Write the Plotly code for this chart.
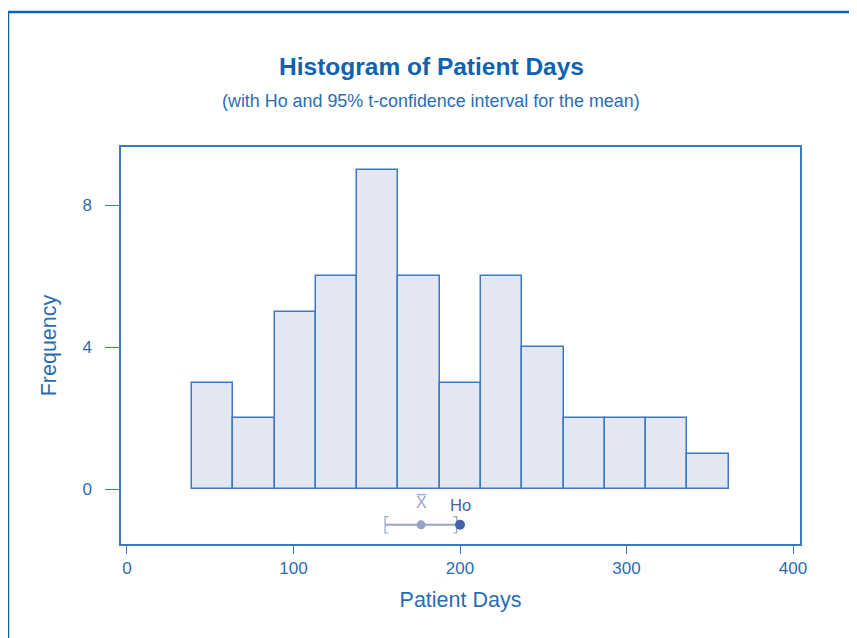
import plotly.graph_objects as go

# ---- data ----
bin_start = 39.0
bin_width = 24.8
counts = [3, 2, 5, 6, 9, 6, 3, 6, 4, 2, 2, 2, 1]
ci_lower = 155.0
ci_upper = 198.0
sample_mean = 176.6
h0_value = 200.0
ci_y = -1.0
x_ticks = [0, 100, 200, 300, 400]
y_ticks = [0, 4, 8]

title = "Histogram of Patient Days"
subtitle = "(with Ho and 95% t-confidence interval for the mean)"

blue = "#0f62b0"
text_blue = "#2a6db2"
bar_fill = "#e4e6f1"
bar_edge = "#3c7abf"
ci_light = "#93a3c9"
ci_dark = "#4462a6"
FONT = "Liberation Sans, Arial"

centers = [bin_start + bin_width * (i + 0.5) for i in range(len(counts))]

fig = go.Figure()
fig.add_trace(go.Bar(
    x=centers, y=counts, width=[bin_width] * len(counts),
    marker=dict(color=bar_fill, line=dict(color=bar_edge, width=1.5)),
    showlegend=False, hoverinfo="x+y"))

# CI line
fig.add_trace(go.Scatter(x=[ci_lower, h0_value], y=[ci_y, ci_y], mode="lines",
                         line=dict(color=ci_light, width=2), showlegend=False))
# brackets
bh = 0.23
bt = 2.0
fig.add_trace(go.Scatter(x=[ci_lower + bt, ci_lower, ci_lower, ci_lower + bt],
                         y=[ci_y + bh, ci_y + bh, ci_y - bh, ci_y - bh],
                         mode="lines", line=dict(color=ci_light, width=1.2), showlegend=False))
fig.add_trace(go.Scatter(x=[ci_upper - bt, ci_upper, ci_upper, ci_upper - bt],
                         y=[ci_y + bh, ci_y + bh, ci_y - bh, ci_y - bh],
                         mode="lines", line=dict(color=ci_light, width=1.2), showlegend=False))
# mean and Ho dots
fig.add_trace(go.Scatter(x=[sample_mean], y=[ci_y], mode="markers",
                         marker=dict(color=ci_light, size=9), showlegend=False))
fig.add_trace(go.Scatter(x=[h0_value], y=[ci_y], mode="markers",
                         marker=dict(color=ci_dark, size=10), showlegend=False))

fig.add_annotation(x=sample_mean, y=ci_y, yshift=22, text="X\u0305", showarrow=False,
                   font=dict(family=FONT, size=16, color=ci_light))
fig.add_annotation(x=h0_value, y=ci_y, yshift=20, text="Ho", showarrow=False,
                   font=dict(family=FONT, size=16.5, color=ci_dark))

# titles (paper fractions relative to the plot box: x 121..800, y 147..544 on screen)
fig.add_annotation(xref="paper", yref="paper", x=(431 - 121) / 679, y=(544 - 66) / 397,
                   text="<b>" + title + "</b>", showarrow=False, yanchor="middle",
                   font=dict(family=FONT, size=24.5, color=blue))
fig.add_annotation(xref="paper", yref="paper", x=(431 - 121) / 679, y=(544 - 101) / 397,
                   text=subtitle, showarrow=False, yanchor="middle",
                   font=dict(family=FONT, size=17.9, color=text_blue))

# outer frame
fig.add_shape(type="rect", xref="paper", yref="paper",
              x0=(8 - 121) / 679, x1=(890 - 121) / 679,
              y0=(544 - 670) / 397, y1=(544 - 12) / 397,
              line=dict(color=blue, width=2.5), fillcolor="rgba(0,0,0,0)", layer="above")

fig.update_layout(
    width=849, height=630,
    margin=dict(l=113, r=57, t=139, b=94),
    paper_bgcolor="white", plot_bgcolor="white",
    bargap=0,
    font=dict(family=FONT, color=text_blue),
    xaxis=dict(range=[-3.6, 404.2], tickvals=x_ticks, ticks="outside", ticklen=8,
               tickcolor=bar_edge, showline=True, linecolor=bar_edge, linewidth=1.5,
               mirror=True, showgrid=False, zeroline=False,
               tickfont=dict(size=17, color=text_blue),
               title=dict(text="Patient Days", font=dict(size=21.5, color=text_blue), standoff=15)),
    yaxis=dict(range=[-1.54, 9.64], tickvals=y_ticks, ticks="outside", ticklen=14,
               tickcolor=bar_edge, showline=True, linecolor=bar_edge, linewidth=1.5,
               mirror=True, showgrid=False, zeroline=False, ticklabelstandoff=10,
               tickfont=dict(size=17, color=text_blue),
               title=dict(text="Frequency", font=dict(size=21.5, color=text_blue), standoff=20)),
)

fig.write_html("out.html")
